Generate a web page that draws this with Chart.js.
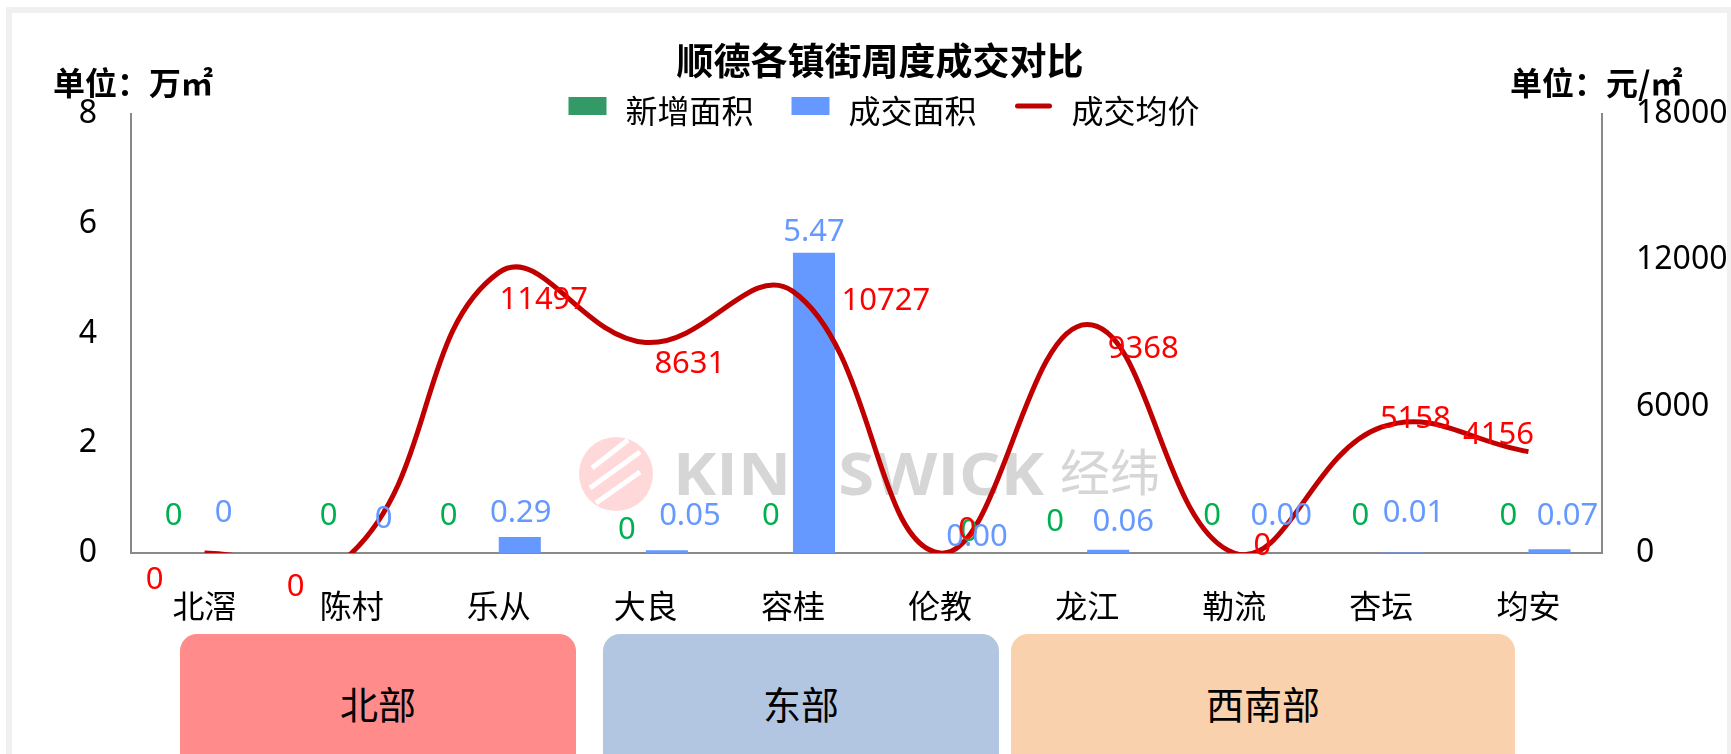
<!DOCTYPE html>
<html lang="zh-CN">
<head>
<meta charset="utf-8">
<title>顺德各镇街周度成交对比</title>
<script src="https://cdn.jsdelivr.net/npm/chart.js@4.4.1/dist/chart.umd.min.js"></script>
<style>
  html, body { margin: 0; padding: 0; background: #fff; }
  body {
    width: 1731px; height: 754px; position: relative; overflow: hidden;
    font-family: "Noto Sans", "Noto Sans CJK SC", sans-serif;
  }
  #frame {
    position: absolute; left: 6px; top: 7px; width: 1715px; height: 800px;
    border: 6px solid #f0f0f0; border-right-width: 4px; border-bottom: none;
  }
  #chart { position: absolute; left: 0; top: 0; }
  .region {
    position: absolute; top: 634px; height: 138px; line-height: 138px;
    border-radius: 17px; text-align: center; font-size: 38px; color: #000;
    font-family: "Noto Sans CJK SC", sans-serif;
  }
</style>
</head>
<body>
<div id="frame"></div>
<canvas id="chart" width="1731" height="754"></canvas>
<div id="regions"></div>

<script>
// Data
const categories = ['北滘', '陈村', '乐从', '大良', '容桂', '伦教', '龙江', '勒流', '杏坛', '均安'];
const newArea = [0, 0, 0, 0, 0, 0, 0, 0, 0, 0];                               // 新增面积 (万㎡)
const dealArea = [0, 0, 0.29, 0.05, 5.47, 0.00, 0.06, 0.00, 0.01, 0.07];        // 成交面积 (万㎡)
const dealAreaText = ['0', '0', '0.29', '0.05', '5.47', '0.00', '0.06', '0.00', '0.01', '0.07'];
const avgPrice = [0, 0, 11497, 8631, 10727, 0, 9368, 0, 5158, 4156];            // 成交均价 (元/㎡)
const leftTicks = [0, 2, 4, 6, 8];
const rightTicks = [0, 6000, 12000, 18000];
const regionNames = ['北部', '东部', '西南部'];

const FONT = '"Noto Sans", "Noto Sans CJK SC", sans-serif';

// Region boxes under the category axis
const regionBoxes = [
    { left: 180, width: 396, color: '#FF8B8B' },
    { left: 603, width: 396, color: '#B3C6E1' },
    { left: 1011, width: 504, color: '#F9D1AC' }
];
regionNames.forEach((name, i) => {
    const div = document.createElement('div');
    div.className = 'region';
    div.style.left = regionBoxes[i].left + 'px';
    div.style.width = regionBoxes[i].width + 'px';
    div.style.background = regionBoxes[i].color;
    div.textContent = name;
    document.getElementById('regions').appendChild(div);
});

// Manual label placement, as in the original sheet (dx, dy from the mark)
const labelOffsets = {
    newArea: [[-10, -37], [-2, -37], [-29, -37], [2, -23], [-1, -37], [50, -21], [-11, -31], [-1, -37], [0, -37], [1, -37]],
    dealArea: [[-2, -40], [11, -34], [1, -24], [23, -34], [0, -21], [16, -16], [15, -28], [26, -37], [11, -39], [18, -33]],
    price: [[-50, 27], [-56, 34], [45, 28], [44, 22], [93, 10], [27, -23], [56, 25], [28, -7], [34, -8], [-30, -16]]
};

// Watermark behind the marks
const watermark = {
    id: 'watermark',
    beforeDatasetsDraw(chart) {
        const ctx = chart.ctx;
        ctx.save();
        // logo
        ctx.fillStyle = 'rgba(255, 170, 170, 0.45)';
        ctx.beginPath();
        ctx.ellipse(616, 474, 37, 37, 0, 0, Math.PI * 2);
        ctx.fill();
        ctx.strokeStyle = '#fff';
        ctx.lineWidth = 5;
        [[592, 468, 628, 440], [590, 488, 640, 452], [596, 503, 640, 472]].forEach(s => {
            ctx.beginPath();
            ctx.moveTo(s[0], s[1]);
            ctx.lineTo(s[2], s[3]);
            ctx.stroke();
        });
        // text
        ctx.fillStyle = '#d6d6d6';
        ctx.textBaseline = 'alphabetic';
        ctx.font = 'bold 59px "Open Sans", sans-serif';
        const w = ctx.measureText('KINGSWICK').width;
        ctx.translate(673, 495);
        ctx.scale(371 / w, 1);
        ctx.fillText('KINGSWICK', 0, 0);
        ctx.restore();
        ctx.save();
        ctx.fillStyle = '#d6d6d6';
        ctx.font = '50px "Noto Sans CJK SC", sans-serif';
        ctx.textBaseline = 'middle';
        ctx.fillText('经纬', 1060, 472);
        ctx.restore();
    }
};

// Data labels
const valueLabels = {
    id: 'valueLabels',
    afterDatasetsDraw(chart) {
        const ctx = chart.ctx;
        const sets = [
            { index: 0, color: '#00B050', texts: newArea.map(v => String(v)), offsets: labelOffsets.newArea },
            { index: 1, color: '#6699FF', texts: dealAreaText, offsets: labelOffsets.dealArea },
            { index: 2, color: '#FF0000', texts: avgPrice.map(v => String(v)), offsets: labelOffsets.price }
        ];
        ctx.save();
        ctx.font = '31px ' + FONT;
        ctx.textAlign = 'center';
        ctx.textBaseline = 'middle';
        sets.forEach(set => {
            ctx.fillStyle = set.color;
            chart.getDatasetMeta(set.index).data.forEach((el, i) => {
                const [dx, dy] = set.offsets[i];
                ctx.fillText(set.texts[i], el.x + dx, el.y + dy);
            });
        });
        ctx.restore();
    }
};

// Title, unit captions and legend
const headings = {
    id: 'headings',
    afterDraw(chart) {
        const ctx = chart.ctx;
        ctx.save();
        ctx.fillStyle = '#000';
        ctx.textBaseline = 'middle';

        ctx.textAlign = 'center';
        ctx.font = 'bold 37px "Noto Sans CJK SC", sans-serif';
        ctx.fillText('顺德各镇街周度成交对比', 880, 61);

        ctx.textAlign = 'left';
        ctx.font = 'bold 32px "Noto Sans CJK SC", sans-serif';
        ctx.fillText('单位：万㎡', 53, 83);
        ctx.fillText('单位：元/㎡', 1510, 83);

        // legend
        ctx.font = '32px "Noto Sans CJK SC", sans-serif';
        const items = chart.data.datasets;
        const widths = items.map(d => ctx.measureText(d.label).width);
        const total = widths.reduce((a, b) => a + b, 0) + items.length * 57 + (items.length - 1) * 38;
        let x = 884 - total / 2;
        items.forEach((d, i) => {
            if (d.type === 'line') {
                ctx.strokeStyle = d.borderColor;
                ctx.lineWidth = 5;
                ctx.lineCap = 'round';
                ctx.beginPath();
                ctx.moveTo(x + 3, 106);
                ctx.lineTo(x + 35, 106);
                ctx.stroke();
            } else {
                ctx.fillStyle = d.backgroundColor;
                ctx.fillRect(x, 97, 38, 18);
            }
            ctx.fillStyle = '#000';
            ctx.fillText(d.label, x + 57, 111);
            x += 57 + widths[i] + 38;
        });
        ctx.restore();
    }
};

const axisBorder = { display: true, color: '#898989', width: 2 };

new Chart(document.getElementById('chart'), {
    type: 'bar',
    data: {
        labels: categories,
        datasets: [
            {
                label: '新增面积',
                data: newArea,
                backgroundColor: '#339966',
                yAxisID: 'y',
                order: 1,
                categoryPercentage: 0.572,
                barPercentage: 1
            },
            {
                label: '成交面积',
                data: dealArea,
                backgroundColor: '#6699FF',
                yAxisID: 'y',
                order: 1,
                categoryPercentage: 0.572,
                barPercentage: 1
            },
            {
                type: 'line',
                label: '成交均价',
                data: avgPrice,
                yAxisID: 'y1',
                borderColor: '#C00000',
                borderWidth: 5,
                pointRadius: 0,
                tension: 0.42,
                capBezierPoints: false,
                clip: 0,
                fill: false,
                order: 0
            }
        ]
    },
    options: {
        responsive: false,
        animation: false,
        devicePixelRatio: 1,
        layout: { padding: { top: 114, left: 0, right: 0, bottom: 0 } },
        plugins: {
            legend: { display: false },
            title: { display: false },
            tooltip: { enabled: false }
        },
        scales: {
            x: {
                grid: { display: false, drawTicks: false },
                border: axisBorder,
                ticks: { color: '#000', font: { size: 32, family: FONT }, padding: 37, maxRotation: 0 },
                afterFit: s => { s.height = 201; }
            },
            y: {
                position: 'left',
                min: 0,
                max: 8,
                grid: { display: false, drawTicks: false },
                border: axisBorder,
                ticks: { color: '#000', font: { size: 32, family: FONT }, padding: 34, callback: v => String(v) },
                afterBuildTicks: s => { s.ticks = leftTicks.map(v => ({ value: v })); },
                afterFit: s => { s.width = 131; }
            },
            y1: {
                position: 'right',
                min: 0,
                max: 18000,
                grid: { display: false, drawTicks: false },
                border: axisBorder,
                ticks: { color: '#000', font: { size: 32, family: FONT }, padding: 34, callback: v => String(v) },
                afterBuildTicks: s => { s.ticks = rightTicks.map(v => ({ value: v })); },
                afterFit: s => { s.width = 129; }
            }
        }
    },
    plugins: [watermark, valueLabels, headings]
});
</script>
</body>
</html>
